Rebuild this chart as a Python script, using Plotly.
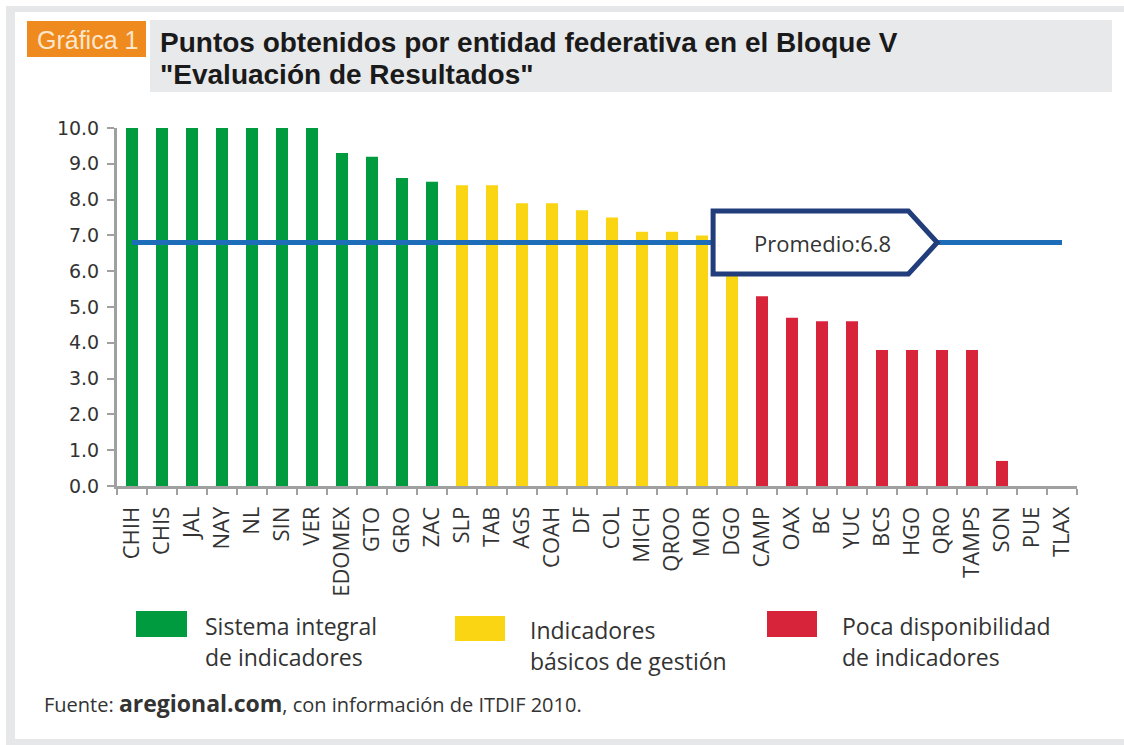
import plotly.graph_objects as go

# ---------------- data ----------------
estados = ["CHIH", "CHIS", "JAL", "NAY", "NL", "SIN", "VER", "EDOMEX", "GTO", "GRO", "ZAC",
           "SLP", "TAB", "AGS", "COAH", "DF", "COL", "MICH", "QROO", "MOR", "DGO",
           "CAMP", "OAX", "BC", "YUC", "BCS", "HGO", "QRO", "TAMPS", "SON", "PUE", "TLAX"]
puntos = [10.0, 10.0, 10.0, 10.0, 10.0, 10.0, 10.0, 9.3, 9.2, 8.6, 8.5,
          8.4, 8.4, 7.9, 7.9, 7.7, 7.5, 7.1, 7.1, 7.0, 6.8,
          5.3, 4.7, 4.6, 4.6, 3.8, 3.8, 3.8, 3.8, 0.7, 0.0, 0.0]
grupo = ["verde"] * 11 + ["amarillo"] * 10 + ["rojo"] * 11
promedio = 6.8
y_ticks = [0, 1, 2, 3, 4, 5, 6, 7, 8, 9, 10]
y_ticktext = ["%.1f" % v for v in y_ticks]

colores = {"verde": "#009a3f", "amarillo": "#fad514", "rojo": "#d8243a"}
leyenda = [("verde", "Sistema integral", "de indicadores"),
           ("amarillo", "Indicadores", "básicos de gestión"),
           ("rojo", "Poca disponibilidad", "de indicadores")]

# ---------------- geometry ----------------
FW, FH = 1124, 745
L, R, T, B = 117, 47, 128, 259
PW = FW - L - R
PH = FH - T - B


def px(x):
    return (x - L) / PW


def py(y):
    return (FH - B - y) / PH


idx = list(range(len(estados)))

fig = go.Figure()
fig.add_trace(go.Bar(
    x=idx, y=puntos, width=0.4,
    marker=dict(color=[colores[g] for g in grupo], line=dict(width=0)),
    showlegend=False, hoverinfo="x+y"))

fig.add_trace(go.Scatter(
    x=[idx[0], idx[-1]], y=[promedio, promedio], mode="lines",
    line=dict(color="#1d6db8", width=5), showlegend=False))

shapes = []
annotations = []

# outer frame strips
frame_col = "#e6e7e9"
shapes.append(dict(type="rect", xref="paper", yref="paper", x0=px(6), x1=px(FW), y0=py(6), y1=py(12),
                   fillcolor=frame_col, line=dict(width=0), layer="below"))
shapes.append(dict(type="rect", xref="paper", yref="paper", x0=px(6), x1=px(15), y0=py(6), y1=py(FH),
                   fillcolor=frame_col, line=dict(width=0), layer="below"))
shapes.append(dict(type="rect", xref="paper", yref="paper", x0=px(15), x1=px(FW), y0=py(739), y1=py(FH),
                   fillcolor=frame_col, line=dict(width=0), layer="below"))

# title blocks
shapes.append(dict(type="rect", xref="paper", yref="paper", x0=px(150), x1=px(1112), y0=py(20), y1=py(92),
                   fillcolor="#e8e9eb", line=dict(width=0), layer="below"))
shapes.append(dict(type="rect", xref="paper", yref="paper", x0=px(27), x1=px(146), y0=py(21), y1=py(57),
                   fillcolor="#ee8a1e", line=dict(width=0), layer="below"))
annotations.append(dict(xref="paper", yref="paper", x=px(87), y=py(40), text="Gráfica 1",
                        showarrow=False, xanchor="center", yanchor="middle",
                        font=dict(family="Liberation Sans", size=25, color="#fde6cc")))
annotations.append(dict(xref="paper", yref="paper", x=px(158), y=py(42),
                        text="<b>Puntos obtenidos por entidad federativa en el Bloque V</b>",
                        showarrow=False, xanchor="left", yanchor="middle",
                        font=dict(family="Liberation Sans", size=28, color="#1a1a1a")))
annotations.append(dict(xref="paper", yref="paper", x=px(158), y=py(74),
                        text="<b>\"Evaluación de Resultados\"</b>",
                        showarrow=False, xanchor="left", yanchor="middle",
                        font=dict(family="Liberation Sans", size=28, color="#1a1a1a")))

# promedio label box (pentagon)
hh = 0.88
x_l, x_p, x_t = 19.37, 25.88, 26.84
path = (f"M {x_l},{promedio - hh} L {x_l},{promedio + hh} L {x_p},{promedio + hh} "
        f"L {x_t},{promedio} L {x_p},{promedio - hh} Z")
shapes.append(dict(type="path", xref="x", yref="y", path=path, fillcolor="white",
                   line=dict(color="#223d7c", width=5), layer="above"))
annotations.append(dict(xref="x", yref="y", x=23.03, y=promedio, text=f"Promedio:{promedio:.1f}",
                        showarrow=False, xanchor="center", yanchor="middle",
                        font=dict(family="Open Sans", size=22, color="#333333")))

# legend
leg_pos = [(136, 187, 611, 637, 203), (455, 505, 616, 641, 528), (767, 817, 611, 637, 840)]
for (g, t1, t2), (x0, x1, y0, y1, tx) in zip(leyenda, leg_pos):
    shapes.append(dict(type="rect", xref="paper", yref="paper", x0=px(x0), x1=px(x1), y0=py(y0), y1=py(y1),
                       fillcolor=colores[g], line=dict(width=0)))
    ty = 626 if g != "amarillo" else 630
    annotations.append(dict(xref="paper", yref="paper", x=px(tx), y=py(ty), text=t1, showarrow=False,
                            xanchor="left", yanchor="middle",
                            font=dict(family="Open Sans", size=23, color="#333333")))
    annotations.append(dict(xref="paper", yref="paper", x=px(tx), y=py(ty + 31), text=t2, showarrow=False,
                            xanchor="left", yanchor="middle",
                            font=dict(family="Open Sans", size=23, color="#333333")))

annotations.append(dict(xref="paper", yref="paper", x=px(42), y=py(703),
                        text="Fuente: <b><span style='font-size:23px'>aregional.com</span></b>, con información de ITDIF 2010.",
                        showarrow=False, xanchor="left", yanchor="middle",
                        font=dict(family="Open Sans", size=20, color="#333333")))

fig.update_layout(
    width=FW, height=FH,
    margin=dict(l=L, r=R, t=T, b=B, pad=0),
    paper_bgcolor="white", plot_bgcolor="white",
    bargap=0.6,
    shapes=shapes, annotations=annotations,
    xaxis=dict(range=[-0.5, len(estados) - 0.5], tickmode="array", tickvals=idx, ticktext=estados,
               tickangle=-90, ticks="", showgrid=False, zeroline=False,
               showline=True, linecolor="#a0a0a0", linewidth=3,
               tickfont=dict(family="Open Sans", size=22, color="#333333"),
               ticklabelstandoff=9,
               minor=dict(tick0=-0.5, dtick=1, ticks="outside", ticklen=6, tickwidth=2, tickcolor="#a0a0a0"),
               fixedrange=True),
    yaxis=dict(range=[0, 10], tickmode="array", tickvals=y_ticks, ticktext=y_ticktext,
               ticks="outside", ticklen=7, tickwidth=2, tickcolor="#a0a0a0",
               showgrid=False, zeroline=False, showline=True, linecolor="#a0a0a0", linewidth=3,
               tickfont=dict(family="DejaVu Sans", size=19, color="#333333"),
               ticklabelstandoff=4, fixedrange=True),
)

fig.write_html("out.html", config={"displayModeBar": False},
               post_script="document.body.style.margin='0';")
